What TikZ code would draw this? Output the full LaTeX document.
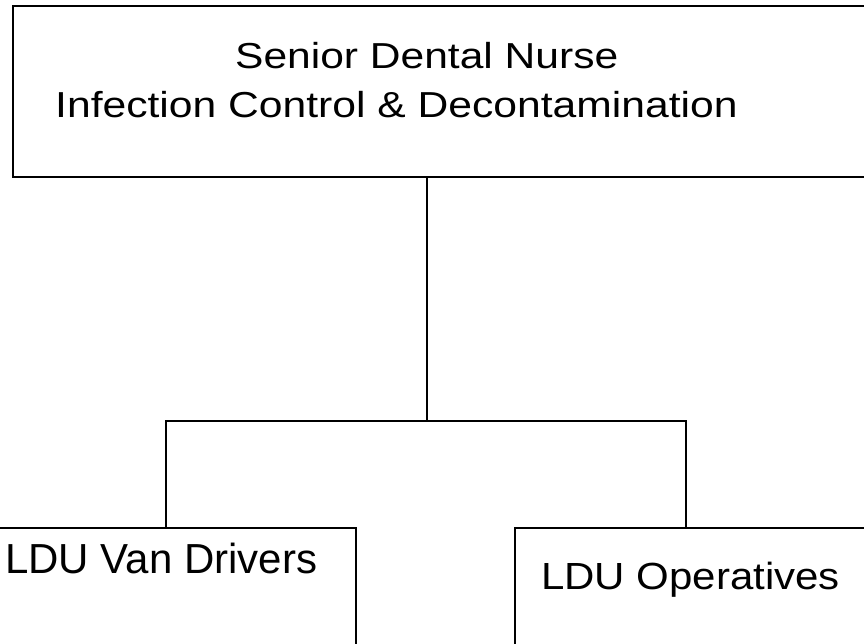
\documentclass[tikz,border=0pt]{standalone}
\usepackage{fontspec}
\setmainfont{Liberation Sans}
\begin{document}
\begin{tikzpicture}[x=1pt,y=-1pt,
  box/.style={draw=black,line width=2.4pt,rectangle,inner sep=0pt,anchor=north west},
  conn/.style={draw=black,line width=2.4pt},
  lbl/.style={anchor=base west,inner sep=0pt,font=\fontsize{42}{48}\selectfont}]
\useasboundingbox (0,0) rectangle (864,644);
\clip (0,0) rectangle (864,644);
\node[box,minimum width=860pt,minimum height=171pt] (top) at (12,5) {};
\node[box,minimum width=365pt,minimum height=130pt] (left) at (-10,527) {};
\node[box,minimum width=360pt,minimum height=130pt] (right) at (514,527) {};
\node[lbl] (t1) at (235,69) {\scalebox{1.013}[0.86]{Senior Dental Nurse}};
\node[lbl] (t2) at (55,118) {\scalebox{1.015}[0.86]{Infection Control \& Decontamination}};
\node[lbl] (t3) at (5,573) {LDU Van Drivers};
\node[lbl] (t4) at (541,589) {\scalebox{1}[0.9]{LDU Operatives}};
\coordinate (j) at (427,421);
\coordinate (jl) at (166,421);
\coordinate (jr) at (686,421);
\draw[conn] (top.south -| j) -- (j);
\draw[conn,line cap=rect] (jl |- left.north) -- (jl) -- (jr) -- (jr |- right.north);
\end{tikzpicture}
\end{document}
